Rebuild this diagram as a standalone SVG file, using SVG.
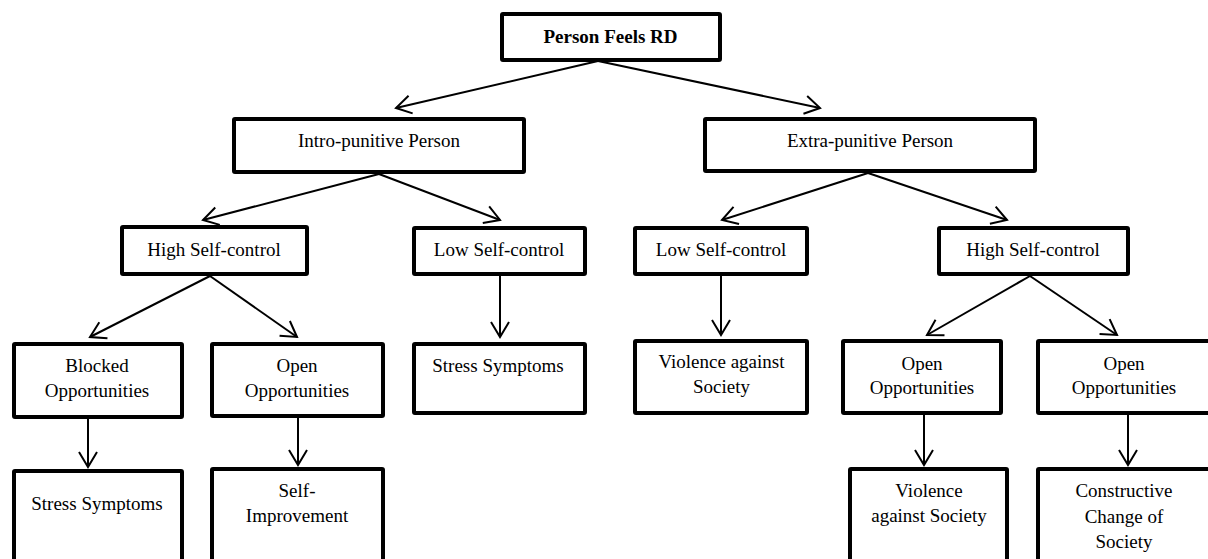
<svg xmlns="http://www.w3.org/2000/svg" width="1208" height="559" viewBox="0 0 1208 559">
  <style>
    .box { fill: #fff; stroke: #000; stroke-width: 4; }
    .t { font-family: "Liberation Serif", "Times New Roman", serif; font-size: 19px; fill: #000; text-anchor: middle; }
    .b { font-weight: bold; }
    .conn line { stroke: #000; stroke-width: 2; marker-end: url(#arr); }
  </style>
  <defs>
    <marker id="arr" markerUnits="userSpaceOnUse" viewBox="-20 -12 24 24" refX="0" refY="0" markerWidth="24" markerHeight="24" orient="auto" overflow="visible">
      <path d="M-15,-9 L0,0 L-15,9" fill="none" stroke="#000" stroke-width="2" stroke-linejoin="miter"/>
    </marker>
  </defs>
  <rect width="1208" height="559" fill="#fff"/>

  <g id="connectors" class="conn">
    <line x1="598" y1="61" x2="396" y2="108"/>
    <line x1="598" y1="61" x2="820" y2="108"/>
    <line x1="379" y1="174" x2="203" y2="220"/>
    <line x1="379" y1="174" x2="500" y2="220"/>
    <line x1="868" y1="173" x2="722" y2="220"/>
    <line x1="868" y1="173" x2="1007" y2="220"/>
    <line x1="210" y1="276" x2="90" y2="337"/>
    <line x1="210" y1="276" x2="297" y2="337"/>
    <line x1="500" y1="276" x2="500" y2="337"/>
    <line x1="721" y1="276" x2="721" y2="335"/>
    <line x1="1030" y1="276" x2="927" y2="335"/>
    <line x1="1030" y1="276" x2="1117" y2="335"/>
    <line x1="88" y1="419" x2="88" y2="467"/>
    <line x1="298" y1="418" x2="298" y2="465"/>
    <line x1="924" y1="415" x2="924" y2="465"/>
    <line x1="1128" y1="415" x2="1128" y2="465"/>
  </g>

  <g id="person-feels-rd">
    <rect class="box" x="502" y="14" width="218" height="46" rx="1"/>
    <text class="t b" x="610.5" y="43">Person Feels RD</text>
  </g>
  <g id="intro-punitive">
    <rect class="box" x="234" y="119" width="290" height="53" rx="1"/>
    <text class="t" x="379" y="147">Intro-punitive Person</text>
  </g>
  <g id="extra-punitive">
    <rect class="box" x="705" y="119" width="330" height="52" rx="1"/>
    <text class="t" x="870" y="147">Extra-punitive Person</text>
  </g>
  <g id="high-self-control-l">
    <rect class="box" x="122" y="227" width="185" height="47" rx="1"/>
    <text class="t" x="214" y="256">High Self-control</text>
  </g>
  <g id="low-self-control-l">
    <rect class="box" x="414" y="228" width="171" height="46" rx="1"/>
    <text class="t" x="499" y="256">Low Self-control</text>
  </g>
  <g id="low-self-control-r">
    <rect class="box" x="635" y="228" width="172" height="46" rx="1"/>
    <text class="t" x="721" y="256">Low Self-control</text>
  </g>
  <g id="high-self-control-r">
    <rect class="box" x="939" y="228" width="189" height="46" rx="1"/>
    <text class="t" x="1033" y="256">High Self-control</text>
  </g>
  <g id="blocked-opportunities">
    <rect class="box" x="14" y="344" width="168" height="73" rx="1"/>
    <text class="t" x="97" y="372">Blocked</text>
    <text class="t" x="97" y="397">Opportunities</text>
  </g>
  <g id="open-opportunities-l">
    <rect class="box" x="212" y="344" width="171" height="72" rx="1"/>
    <text class="t" x="297" y="372">Open</text>
    <text class="t" x="297" y="397">Opportunities</text>
  </g>
  <g id="stress-symptoms-mid">
    <rect class="box" x="414" y="344" width="171" height="69" rx="1"/>
    <text class="t" x="498" y="372">Stress Symptoms</text>
  </g>
  <g id="violence-mid">
    <rect class="box" x="635" y="341" width="172" height="72" rx="1"/>
    <text class="t" x="721.5" y="368">Violence against</text>
    <text class="t" x="721.5" y="393">Society</text>
  </g>
  <g id="open-opportunities-r1">
    <rect class="box" x="843" y="341" width="158" height="72" rx="1"/>
    <text class="t" x="922" y="370">Open</text>
    <text class="t" x="922" y="394">Opportunities</text>
  </g>
  <g id="open-opportunities-r2">
    <rect class="box" x="1038" y="341" width="172" height="72" rx="1"/>
    <text class="t" x="1124" y="370">Open</text>
    <text class="t" x="1124" y="394">Opportunities</text>
  </g>
  <g id="stress-symptoms-bottom">
    <rect class="box" x="14" y="471" width="168" height="100" rx="1"/>
    <text class="t" x="97" y="510">Stress Symptoms</text>
  </g>
  <g id="self-improvement">
    <rect class="box" x="212" y="469" width="171" height="100" rx="1"/>
    <text class="t" x="297" y="497">Self-</text>
    <text class="t" x="297" y="522">Improvement</text>
  </g>
  <g id="violence-bottom">
    <rect class="box" x="850" y="469" width="157" height="100" rx="1"/>
    <text class="t" x="929" y="497">Violence</text>
    <text class="t" x="929" y="522">against Society</text>
  </g>
  <g id="constructive-change">
    <rect class="box" x="1038" y="469" width="172" height="100" rx="1"/>
    <text class="t" x="1124" y="497">Constructive</text>
    <text class="t" x="1124" y="523">Change of</text>
    <text class="t" x="1124" y="548">Society</text>
  </g>
</svg>
